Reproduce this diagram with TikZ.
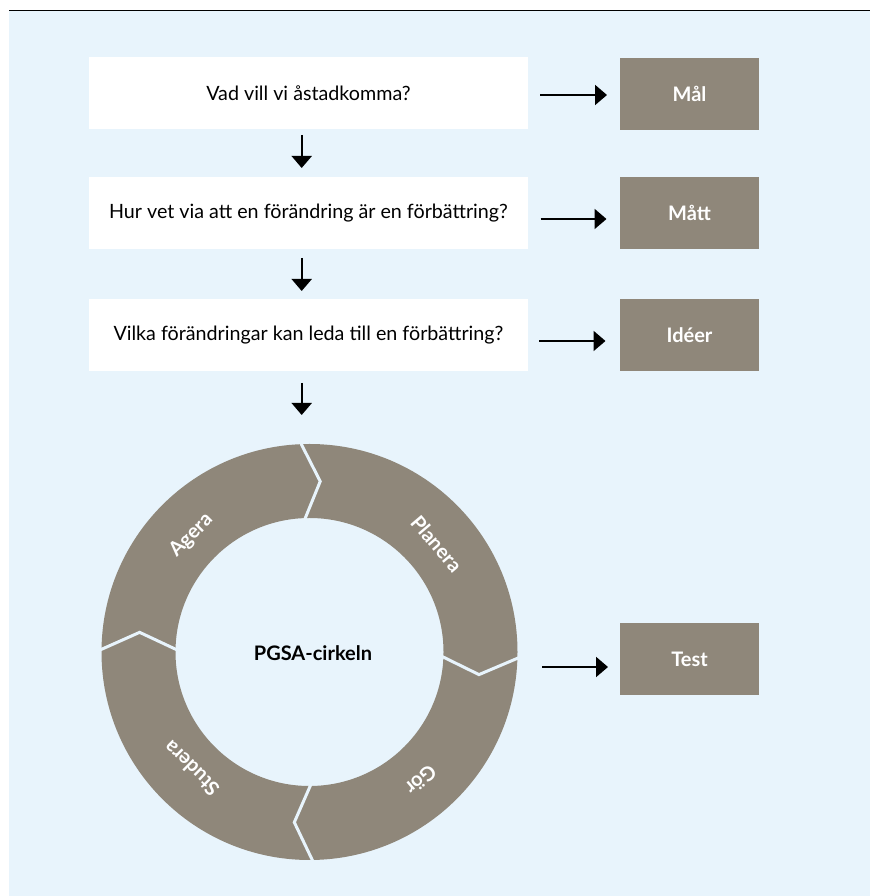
\documentclass[tikz,border=0pt]{standalone}
\usepackage{fontspec}
\setmainfont{Lato}
\usetikzlibrary{arrows.meta,calc}
\definecolor{bgblue}{HTML}{E8F4FC}
\definecolor{taupe}{HTML}{8F877A}
\begin{document}
\begin{tikzpicture}[x=1pt,y=1pt,
  qbox/.style={fill=white, minimum width=439pt, minimum height=72pt, inner sep=0pt,
    font=\fontsize{19.7}{22}\selectfont, text=black},
  gbox/.style={fill=taupe, minimum width=139pt, minimum height=72pt, inner sep=0pt,
    font=\fontsize{20}{22}\selectfont\bfseries, text=white},
  arr/.style={-{Triangle[length=12pt,width=20pt]}, line width=2pt, black},
  sep/.style={draw=bgblue, line width=3pt, line join=miter},
  ringlabel/.style={text=white, font=\fontsize{20}{22}\selectfont\bfseries, inner sep=0pt}
]
\useasboundingbox (0,0) rectangle (870,896);
\fill[bgblue] (9,0) rectangle (870,885);
\draw[line width=1.5pt] (9,885.5) -- (870,885.5);

% question boxes
\node[qbox] (q1) at (308.5,802.5) {Vad vill vi åstadkomma?};
\node[qbox] (q2) at (308.5,683) {Hur vet via att en förändring är en förbättring?};
\node[qbox] (q3) at (308.5,560.5) {Vilka förändringar kan leda till en förbättring?};

% result boxes
\node[gbox] (g1) at (689.5,802) {Mål};
\node[gbox] (g2) at (689.5,683) {Mått};
\node[gbox] (g3) at (689.5,561) {Idéer};
\node[gbox] (g4) at (689.5,237) {Test};

% ring
\coordinate (c) at (309.5,244);
\fill[taupe, even odd rule] (c) circle (208) (c) circle (134);
\foreach \t in {93,-1,-88.5,180}
  \draw[sep] ($(c)+(\t:214)$) -- ($(c)+(\t-6.6:171)$) -- ($(c)+(\t:128)$);

\node[ringlabel, rotate=-49.6] (planera) at ($(c)+(40.4:167)$) {Planera};
\node[ringlabel, rotate=45.4] (agera) at ($(c)+(135.4:166)$) {Agera};
\node[ringlabel, rotate=-139] (gor) at ($(c)+(-49:170)$) {Gör};
\node[ringlabel, rotate=135.4] (studera) at ($(c)+(-135.4:166)$) {Studera};
\node[font=\fontsize{20}{22}\selectfont\bfseries, text=black] (pgsa) at (313,243) {PGSA-cirkeln};

% down arrows
\coordinate (d1s) at (301.7,761);   \coordinate (d1e) at (301.7,728);
\coordinate (d2s) at (301.7,638);   \coordinate (d2e) at (301.7,605);
\coordinate (d3s) at (301.7,513);   \coordinate (d3e) at (301.7,481);
\draw[arr] (d1s) -- (d1e);
\draw[arr] (d2s) -- (d2e);
\draw[arr] (d3s) -- (d3e);

% right arrows
\coordinate (r1s) at (540,801);   \coordinate (r1e) at (607,801);
\coordinate (r2s) at (540.5,677); \coordinate (r2e) at (606.5,677);
\coordinate (r3s) at (539,555);   \coordinate (r3e) at (605.5,555);
\coordinate (r4s) at (542,229);   \coordinate (r4e) at (608,229);
\draw[arr] (r1s) -- (r1e);
\draw[arr] (r2s) -- (r2e);
\draw[arr] (r3s) -- (r3e);
\draw[arr] (r4s) -- (r4e);
\end{tikzpicture}
\end{document}
